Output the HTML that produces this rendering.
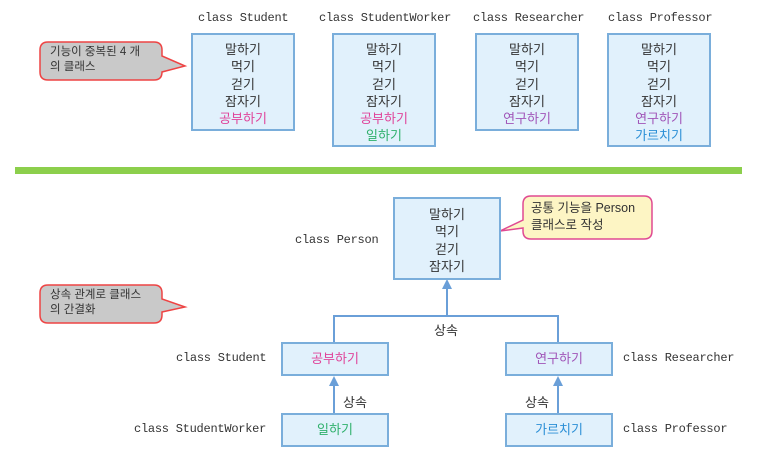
<!DOCTYPE html>
<html><head><meta charset="utf-8"><style>
body{margin:0;width:759px;height:454px;background:#fff;position:relative;overflow:hidden;font-family:"Liberation Sans","Noto Sans CJK KR",sans-serif;}
.a{position:absolute}
.box{position:absolute;background:#e1f1fc;border:2px solid #7aaedb;box-sizing:border-box;text-align:center;font-size:13px;line-height:17.3px;color:#333;padding-top:6px}
.lbl{position:absolute;font-family:"Liberation Mono","Noto Sans CJK KR",monospace;font-size:12px;letter-spacing:-0.25px;color:#333;white-space:nowrap}
.pk{color:#e0449a}.gr{color:#2fb06c}.pu{color:#a055b8}.bl{color:#2b8fd6}
.one{padding-top:0;line-height:30px}
.t{position:absolute;font-size:13px;color:#333}
</style></head><body>
<div class="lbl" style="left:198px;top:11px">class Student</div>
<div class="lbl" style="left:319px;top:11px">class StudentWorker</div>
<div class="lbl" style="left:473px;top:11px">class Researcher</div>
<div class="lbl" style="left:608px;top:11px">class Professor</div>
<div class="box" style="left:191px;top:33px;width:104px;height:98px">말하기<br>먹기<br>걷기<br>잠자기<br><span class="pk">공부하기</span></div>
<div class="box" style="left:332px;top:33px;width:104px;height:114px">말하기<br>먹기<br>걷기<br>잠자기<br><span class="pk">공부하기</span><br><span class="gr">일하기</span></div>
<div class="box" style="left:475px;top:33px;width:104px;height:98px">말하기<br>먹기<br>걷기<br>잠자기<br><span class="pu">연구하기</span></div>
<div class="box" style="left:607px;top:33px;width:104px;height:114px">말하기<br>먹기<br>걷기<br>잠자기<br><span class="pu">연구하기</span><br><span class="bl">가르치기</span></div>
<div class="a" style="left:15px;top:167px;width:727px;height:7px;background:#8ccf4c"></div>

<svg class="a" style="left:0;top:0" width="759" height="454">
<path d="M48 42 H154 Q162 42 162 50 V56 L185 66 L162 72 V72 Q162 80 154 80 H48 Q40 80 40 72 V50 Q40 42 48 42 Z" fill="#c9c9c9" stroke="#ee4444" stroke-width="1.5"/>
<path d="M48 285 H154 Q162 285 162 293 V299 L185 307 L162 312 V315 Q162 323 154 323 H48 Q40 323 40 315 V293 Q40 285 48 285 Z" fill="#c9c9c9" stroke="#ee4444" stroke-width="1.5"/>
<path d="M531 196 H644 Q652 196 652 204 V231 Q652 239 644 239 H531 Q523 239 523 231 V228 L500 231 L523 220 V204 Q523 196 531 196 Z" fill="#fdf5c4" stroke="#e04a92" stroke-width="1.5"/>
<g stroke="#6a9fd8" stroke-width="2" fill="none">
<path d="M447 316 V285"/><path d="M334 342 V316 H558 V342"/>
<path d="M334 413 V383"/><path d="M558 413 V383"/>
</g>
<g fill="#6a9fd8">
<path d="M447 279 L442 289 L452 289Z"/><path d="M334 376 L329 386 L339 386Z"/><path d="M558 376 L553 386 L563 386Z"/>
</g>
</svg>
<div class="t" style="left:50px;top:45px;font-size:11.5px;line-height:15px">기능이 중복된 4 개<br>의 클래스</div>
<div class="t" style="left:50px;top:288px;font-size:11.5px;line-height:15px">상속 관계로 클래스<br>의 간결화</div>
<div class="t" style="left:531px;top:200px;font-size:12.5px;line-height:17px">공통 기능을 Person<br>클래스로 작성</div>

<div class="box" style="left:393px;top:197px;width:108px;height:83px;padding-top:7px">말하기<br>먹기<br>걷기<br>잠자기</div>
<div class="lbl" style="left:295px;top:233px">class Person</div>
<div class="t" style="left:434px;top:320px">상속</div>
<div class="box one" style="left:281px;top:342px;width:108px;height:34px"><span class="pk">공부하기</span></div>
<div class="box one" style="left:505px;top:342px;width:108px;height:34px"><span class="pu">연구하기</span></div>
<div class="box one" style="left:281px;top:413px;width:108px;height:34px"><span class="gr">일하기</span></div>
<div class="box one" style="left:505px;top:413px;width:108px;height:34px"><span class="bl">가르치기</span></div>
<div class="t" style="left:343px;top:392px">상속</div>
<div class="t" style="left:525px;top:392px">상속</div>
<div class="lbl" style="left:176px;top:351px">class Student</div>
<div class="lbl" style="left:134px;top:422px">class StudentWorker</div>
<div class="lbl" style="left:623px;top:351px">class Researcher</div>
<div class="lbl" style="left:623px;top:422px">class Professor</div>
</body></html>
